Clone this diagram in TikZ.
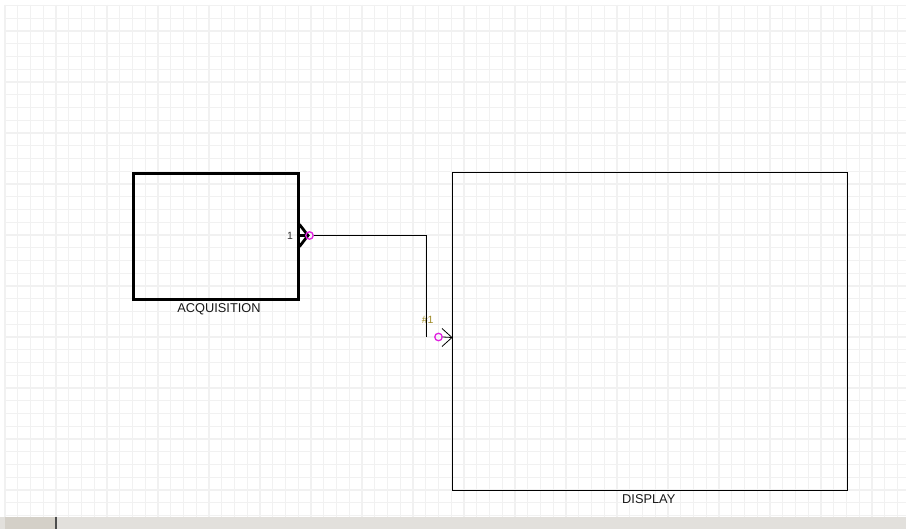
\documentclass[tikz,border=0pt]{standalone}
\usepackage{fontspec}
\setmainfont{Liberation Sans}
\definecolor{gridc}{HTML}{F1F1F1}
\definecolor{portc}{HTML}{E020E0}
\definecolor{labc}{HTML}{A08C28}
\definecolor{barc}{HTML}{D4D0C8}
\definecolor{barc2}{HTML}{E2E0DC}
\tikzset{
  blk/.style={draw=black, inner sep=0pt, anchor=north west},
  blkcaption/.style={font=\fontsize{12.8}{13}\selectfont, inner sep=0pt, text=black!90, anchor=base},
  portring/.style={draw=portc, line width=1.3pt, circle, minimum size=7.5pt, inner sep=0pt},
  portnum/.style={font=\fontsize{10.5}{11}\selectfont, inner sep=0pt},
  wire/.style={draw=black, line width=0.9pt}
}
\begin{document}
\begin{tikzpicture}[x=1pt,y=-1pt]
\useasboundingbox (0,0) rectangle (906,529);
\fill[white] (0,0) rectangle (906,529);
% grid
\foreach \i in {0,...,70} {
  \draw[gridc, line width=1.3pt] ({5+12.75*\i},5) -- ({5+12.75*\i},517);
}
\foreach \j in {0,...,40} {
  \draw[gridc, line width=1.3pt] (5,{5.5+12.75*\j}) -- (906,{5.5+12.75*\j});
}
% bottom bar
\fill[barc2] (0,517) rectangle (906,529);
\fill[barc] (5,517) rectangle (55,529);
\draw[black!70, line width=1.2pt] (56,517) -- (56,529);
% blocks
\node[blk, line width=3pt, minimum width=165pt, minimum height=126pt] (acq) at (132,172) {};
\node[blkcaption] (acqlab) at (219,312.3) {ACQUISITION};
\node[blk, line width=1pt, minimum width=395pt, minimum height=318pt] (disp) at (452,172) {};
\node[blkcaption] (displab) at (648.8,503.4) {DISPLAY};
% output port of acquisition
\coordinate (op) at (297,235.5);
\coordinate (optip) at (308,235.5);
\draw[line width=2.8pt, line cap=round, line join=miter] (299.5,224.5) -- (optip) -- (299.5,246.5);
\draw[line width=2.6pt] (op) -- (optip);
\node[portnum, text=black!80] (n1) at (290,235.5) {1};
\node[portring] (ring1) at (309.5,235.5) {};
% input port of display
\coordinate (ip) at (452,337.5);
\node[portring] (ring2) at (438.5,337) {};
\draw[line width=0.8pt] (442,328.5) -- (ip) -- (442,346.5);
\draw[line width=0.8pt] (ring2.east) -- (ip);
\node[portnum, text=labc] (n2) at (427.7,320) {\#1};
% connector
\coordinate (bend1) at (426.5,235.5);
\coordinate (bend2) at (426.5,337.5);
\draw[wire] (ring1.east) -- (bend1) -- (bend2);
\end{tikzpicture}
\end{document}
